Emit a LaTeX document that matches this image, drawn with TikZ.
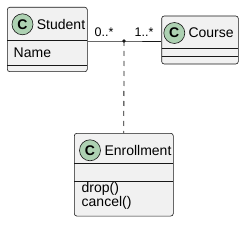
\documentclass[tikz,border=0pt]{standalone}
\usepackage{fontspec}
\setmainfont{Liberation Sans}
\begin{document}
\begin{tikzpicture}[x=1pt,y=-1pt,
  cls/.style={draw=linec,fill=boxf,rounded corners=2.5pt,line width=0.6pt,inner sep=0pt},
  badge/.style={circle,draw=linec,fill=badgef,line width=0.6pt,minimum size=21pt,inner sep=0pt,font=\fontsize{14}{14}\selectfont\bfseries},
  title/.style={anchor=west,inner sep=0pt,font=\fontsize{14}{14}\selectfont},
  member/.style={anchor=west,inner sep=0pt,font=\fontsize{14}{14}\selectfont},
  mult/.style={inner sep=0pt,font=\fontsize{12.5}{13}\selectfont},
  sep/.style={draw=linec,line width=0.6pt}]
\definecolor{linec}{HTML}{181818}
\definecolor{boxf}{HTML}{F1F1F1}
\definecolor{badgef}{HTML}{ADD1B2}
\useasboundingbox (0,0) rectangle (252,230);
% Student
\node[cls,minimum width=80pt,minimum height=64.4pt] (student) at (47.3,39.5) {};
\draw[sep] (7.3,40) -- (87.3,40);
\draw[sep] (7.3,65.7) -- (87.3,65.7);
\node[badge] (sc) at (22.5,24.3) {C};
\node[title] (st) at (36.7,24.3) {Student};
\node[member] (sn) at (13.5,53) {Name};
% Course
\node[cls,minimum width=76.6pt,minimum height=48pt] (course) at (200,40) {};
\draw[sep] (161.7,48.3) -- (238.3,48.3);
\draw[sep] (161.7,56.5) -- (238.3,56.5);
\node[badge] (cc) at (174.3,33) {C};
\node[title] (ct) at (188.3,33) {Course};
% Enrollment
\node[cls,minimum width=99pt,minimum height=82.7pt] (enroll) at (123.8,174.7) {};
\draw[sep] (74.3,163.3) -- (173.3,163.3);
\draw[sep] (74.3,181) -- (173.3,181);
\node[badge] (ec) at (90,150.3) {C};
\node[title] (et) at (104.3,150.3) {Enrollment};
\node[member] (ed) at (81.5,188.5) {drop()};
\node[member] (ecan) at (81.5,202.8) {cancel()};
% association
\coordinate (mid) at (124,41);
\draw[linec,line width=0.8pt] (student.east|-mid) -- (mid) -- (course.west|-mid);
\fill[linec] (mid) circle (1.8pt);
\draw[linec,line width=0.8pt,dash pattern=on 5pt off 5pt] (mid) -- (enroll.north);
\node[mult] (m1) at (104,32) {0..*};
\node[mult] (m2) at (144,32) {1..*};
\end{tikzpicture}
\end{document}
